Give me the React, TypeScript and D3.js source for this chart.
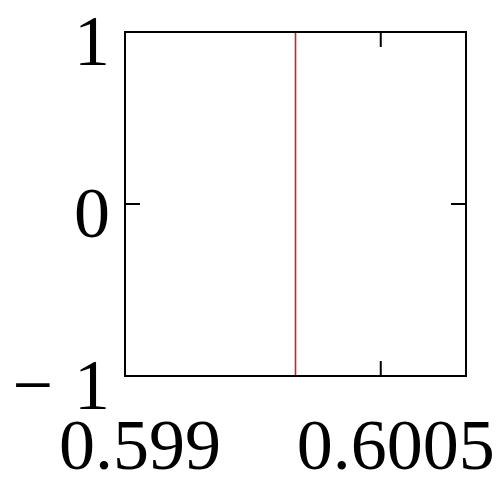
import React from "react";
import * as d3 from "d3";

const xDomain = [0.599, 0.601];
const yDomain = [-1, 1];
const xTicks = [0.599, 0.6005];
const xTickLabels = ["0.599", "0.6005"];
const yTicks = [-1, 0, 1];
const yTickLabels = ["\u22121", "0", "1"];
const lineX = [0.6];

const W = 500;
const H = 478;
const M = { left: 125, right: 466, top: 32, bottom: 376 };

function renderLabel(s: string) {
  if (s.startsWith("\u2212")) {
    return (
      <>
        <tspan>{"\u2212"}</tspan>
        <tspan dx={21}>{s.slice(1)}</tspan>
      </>
    );
  }
  return s;
}

export default function App() {
  const x = d3.scaleLinear().domain(xDomain).range([M.left, M.right]);
  const y = d3.scaleLinear().domain(yDomain).range([M.bottom, M.top]);
  const font = "'Liberation Serif', 'Times New Roman', serif";
  const tickLen = 15;
  return (
    <div style={{ position: "absolute", left: 0, top: 0 }}>
      <svg width={W} height={H} style={{ display: "block", background: "#fff" }}>
        {lineX.map((v, i) => (
          <line key={i} x1={x(v)} x2={x(v)} y1={y(yDomain[0])} y2={y(yDomain[1])} stroke="#cc2222" strokeWidth={1.6} />
        ))}
        <rect x={M.left} y={M.top} width={M.right - M.left} height={M.bottom - M.top} fill="none" stroke="#000" strokeWidth={2} />
        {xTicks.map((v, i) => (
          <g key={"xt" + i}>
            <line x1={x(v)} x2={x(v)} y1={M.bottom} y2={M.bottom - tickLen} stroke="#000" strokeWidth={2} />
            <line x1={x(v)} x2={x(v)} y1={M.top} y2={M.top + tickLen} stroke="#000" strokeWidth={2} />
            <text x={x(v) + 15} y={469} textAnchor="middle" fontFamily={font} fontSize={72} fill="#000">
              {xTickLabels[i]}
            </text>
          </g>
        ))}
        {yTicks.map((v, i) => (
          <g key={"yt" + i}>
            <line x1={M.left} x2={M.left + tickLen} y1={y(v)} y2={y(v)} stroke="#000" strokeWidth={2} />
            <line x1={M.right} x2={M.right - tickLen} y1={y(v)} y2={y(v)} stroke="#000" strokeWidth={2} />
            <text x={110} y={y(v) + 33} textAnchor="end" fontFamily={font} fontSize={72} fill="#000">
              {renderLabel(yTickLabels[i])}
            </text>
          </g>
        ))}
      </svg>
    </div>
  );
}
